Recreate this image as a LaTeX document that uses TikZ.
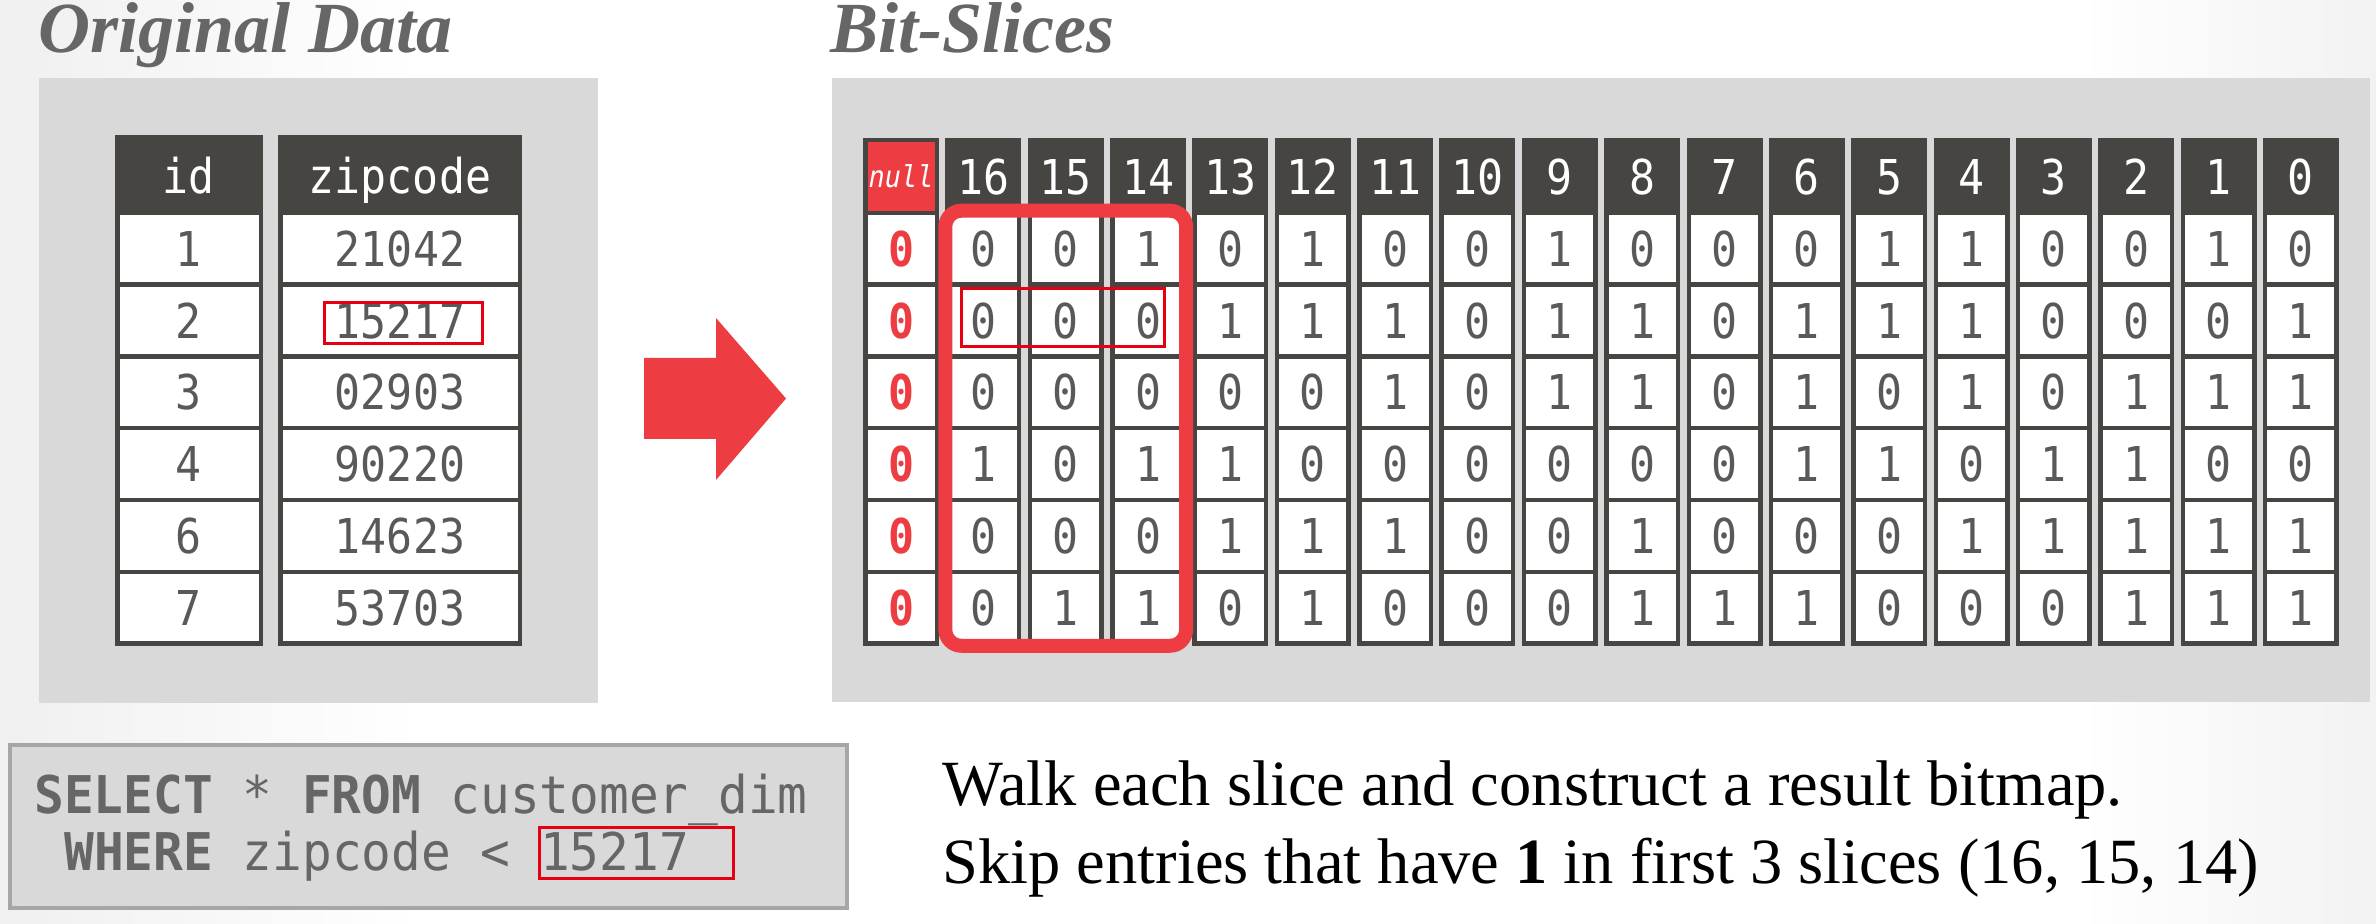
\documentclass[tikz,border=0pt]{standalone}
\usepackage{fontspec}
\setmainfont{Liberation Serif}
\newfontfamily\cellfont[FakeStretch=0.9]{DejaVu Sans Mono}
\newfontfamily\sqlfont[FakeStretch=0.95]{DejaVu Sans Mono}
\usetikzlibrary{fit}
\definecolor{tdark}{RGB}{70,69,65}
\definecolor{tgray}{RGB}{89,89,89}
\definecolor{panelgray}{RGB}{217,217,217}
\definecolor{accent}{RGB}{238,61,66}
\definecolor{boxred}{RGB}{230,0,18}
\definecolor{titlegray}{RGB}{102,102,102}
\definecolor{sqlborder}{RGB}{166,166,166}
\begin{document}
\begin{tikzpicture}[x=0.5pt,y=-0.5pt,
  ttl/.style={font=\fontsize{36}{40}\selectfont\bfseries\itshape, text=titlegray, inner sep=0},
  cellbase/.style={draw=tdark, line width=2.25pt, inner sep=0, font=\cellfont\fontsize{24}{28}\selectfont},
  dcell/.style={cellbase, fill=white, text=tgray, minimum height=35.875pt},
  nullval/.style={text=accent, font=\cellfont\bfseries\fontsize{24}{28}\selectfont},
  hcell/.style={cellbase, fill=tdark, text=white, text height=18pt, text depth=0pt},
  bcol/.style={minimum width=35.75pt},
  hl/.style={draw=accent, line width=7pt, rounded corners=8pt, inner sep=0pt},
  redbox/.style={draw=boxred, line width=1.5pt},
  sqlbox/.style={draw=sqlborder, fill=panelgray, line width=2pt, inner sep=0},
  sqltext/.style={font=\sqlfont\fontsize{26}{30}\selectfont, text=titlegray, inner sep=0},
  notetxt/.style={font=\fontsize{32.25}{38}\selectfont, text=black, inner sep=0}
]
\useasboundingbox (0,0) rectangle (2376,924);
\fill[white] (0,0) rectangle (2376,924);
\shade[left color=black!6, right color=white] (0,0) rectangle (420,924);
\shade[left color=white, right color=black!5] (2080,0) rectangle (2376,924);

% panels
\fill[panelgray] (39,78) rectangle (598,703);
\fill[panelgray] (832,78) rectangle (2370,702);

% titles
\node[ttl, anchor=base west] (t1) at (38,53) {Original Data};
\node[ttl, anchor=base west] (t2) at (830,53) {Bit-Slices};

% left table
\node[hcell, minimum width=71.75pt, minimum height=37.875pt] (hid) at (189,175.1) {id};
\node[hcell, minimum width=119.75pt, minimum height=37.875pt] (hzip) at (400,175.1) {zipcode};
\foreach \idv/\zipv [count=\j] in {1/21042,2/15217,3/02903,4/90220,6/14623,7/53703} {
  \node[dcell, minimum width=71.75pt] (id\j) at ({189},{177.125+71.75*\j}) {\idv};
  \node[dcell, minimum width=119.75pt] (zip\j) at ({400},{177.125+71.75*\j}) {\zipv};
}
\draw[redbox] (324,303) rectangle (482,344);

% arrow
\fill[accent] (644,358) -- (716,358) -- (716,318) -- (786,398.5) -- (716,480) -- (716,439) -- (644,439) -- cycle;

% right table headers
\node[hcell, bcol, fill=accent, minimum height=36.375pt, text height=11pt,
      font=\cellfont\itshape\fontsize{15}{18}\selectfont] (hnull) at (901,176.6) {null};
\foreach \lab [count=\i] in {16,15,14,13,12,11,10,9,8,7,6,5,4,3,2,1,0} {
  \node[hcell, bcol, minimum height=36.375pt] (h\i) at ({901+82.35*\i},176.6) {\lab};
}
% right table bits
\foreach \row [count=\j] in {
  {0,0,1,0,1,0,0,1,0,0,0,1,1,0,0,1,0},
  {0,0,0,1,1,1,0,1,1,0,1,1,1,0,0,0,1},
  {0,0,0,0,0,1,0,1,1,0,1,0,1,0,1,1,1},
  {1,0,1,1,0,0,0,0,0,0,1,1,0,1,1,0,0},
  {0,0,0,1,1,1,0,0,1,0,0,0,1,1,1,1,1},
  {0,1,1,0,1,0,0,0,1,1,1,0,0,0,1,1,1}} {
  \node[dcell, bcol, nullval] (b\j-0) at ({901},{177.125+71.75*\j}) {0};
  \foreach \v [count=\i] in \row {
    \node[dcell, bcol] (b\j-\i) at ({901+82.35*\i},{177.125+71.75*\j}) {\v};
  }
}
\node[hl, fit=(b1-1)(b6-3)] (hlbox) {};
\draw[redbox] (961,289) rectangle (1164,347);

% SQL box
\node[sqlbox, minimum width=418.5pt, minimum height=81.5pt] (sql) at (428.5,826.5) {};
\node[sqltext, anchor=base west] (q1) at (34,813) {\textbf{SELECT} * \textbf{FROM} customer\_dim};
\node[sqltext, anchor=base west] (q2) at (64,870) {\textbf{WHERE} zipcode < 15217};
\draw[redbox] (539,827) rectangle (733,878);

% notes
\node[notetxt, anchor=base west] (n1) at (942,805) {Walk each slice and construct a result bitmap.};
\node[notetxt, anchor=base west] (n2) at (942,883) {Skip entries that have \textbf{1} in first 3 slices (16, 15, 14)};
\end{tikzpicture}
\end{document}
